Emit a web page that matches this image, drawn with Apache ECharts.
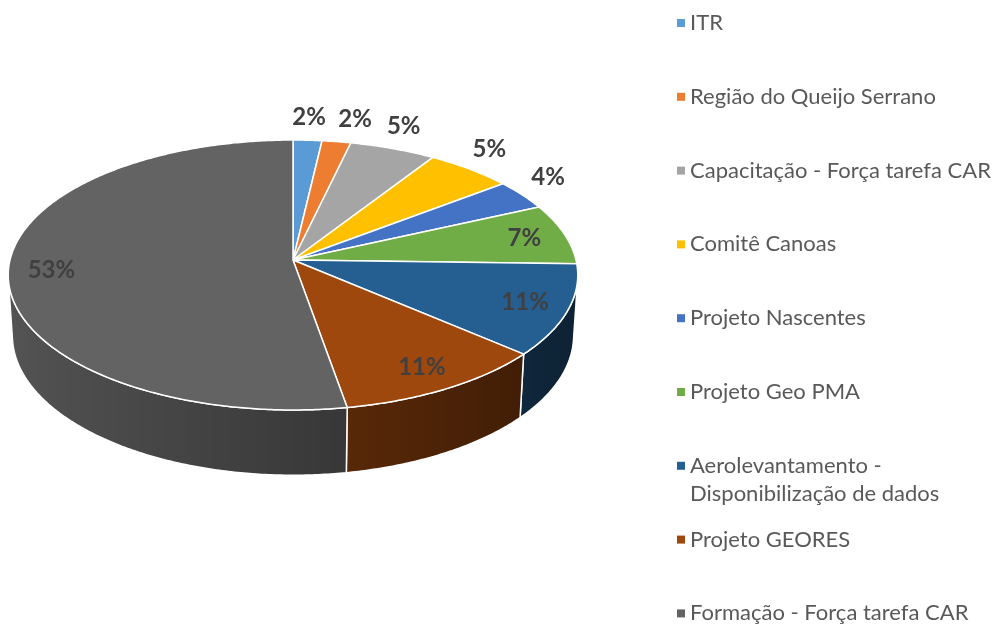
<!DOCTYPE html>
<html><head><meta charset="utf-8">
<script src="https://cdn.jsdelivr.net/npm/echarts@6/dist/echarts.min.js"></script>
<style>html,body{margin:0;padding:0;background:#fff}#c{width:995px;height:628px}</style>
</head><body><div id="c"></div>
<script>
// ---- data ----
const categories = ['ITR','Região do Queijo Serrano','Capacitação - Força tarefa CAR','Comitê Canoas','Projeto Nascentes','Projeto Geo PMA','Aerolevantamento - Disponibilização de dados','Projeto GEORES','Formação - Força tarefa CAR'];
const values = [1, 1, 3, 3, 2, 4, 6, 6, 29];
const colors = ['#5B9BD5','#ED7D31','#A5A5A5','#FFC000','#4472C4','#70AD47','#255E91','#9E480E','#636363'];

// ---- 3D pie projection (layout) ----
const CX = 293, CY = 260, K = 2247, DIST = 7.94, SINP = 0.471, COSP = 0.882, H = 0.245;
const LABEL_FONT = 24, LABEL_W = 36, LABEL_H = 26;
const total = values.reduce((a, b) => a + b, 0);
const cum = []; let acc = 0; values.forEach(v => { cum.push(acc); acc += v; });
const VIS0 = Math.acos(-1 / (DIST * COSP)), VIS1 = 2 * Math.PI - VIS0;

function proj(theta, r, y) {
  const X = r * Math.sin(theta), Z = -r * Math.cos(theta);
  const yc = Z * SINP - y * COSP;
  const depth = DIST - Z * COSP - y * SINP;
  return [CX + K * X / depth, CY + K * yc / depth];
}
function shade(hex, f) {
  const n = parseInt(hex.slice(1), 16);
  const r = Math.round(((n >> 16) & 255) * f), g = Math.round(((n >> 8) & 255) * f), b = Math.round((n & 255) * f);
  return 'rgb(' + r + ',' + g + ',' + b + ')';
}

// label anchor positions with simple overlap avoidance
const labelPos = values.map((v, i) => {
  const pct = v / total * 100;
  const mid = (cum[i] + v / 2) / total * 2 * Math.PI;
  if (pct < 6) { const p = proj(mid, 1.12, 0); p[1] -= 10; return { p, out: true }; }
  return { p: proj(mid, 0.85, 0), out: false };
});
for (let i = 1; i < labelPos.length; i++) {
  const a = labelPos[i - 1], b = labelPos[i];
  if (a.out && b.out && Math.abs(a.p[1] - b.p[1]) < LABEL_H && b.p[0] - a.p[0] < LABEL_W + 10) {
    b.p[0] = a.p[0] + LABEL_W + 10;
  }
}

function renderItem(params, api) {
  const i = params.dataIndex;
  const a0 = cum[i] / total * 2 * Math.PI, a1 = (cum[i] + values[i]) / total * 2 * Math.PI;
  const children = [];
  // wall
  const v0 = Math.max(a0, VIS0), v1 = Math.min(a1, VIS1);
  if (v1 > v0) {
    const m = Math.max(2, Math.ceil((v1 - v0) / 0.01));
    const up = [], dn = [], thetas = [];
    for (let j = 0; j <= m; j++) {
      const t = v0 + (v1 - v0) * j / m;
      thetas.push(t); up.push(proj(t, 1, 0)); dn.push(proj(t, 1, -H));
    }
    const pts = up.concat(dn.slice().reverse());
    const xs = pts.map(p => p[0]);
    const xmin = Math.min.apply(null, xs), xmax = Math.max.apply(null, xs);
    const stops = thetas.map((t, j) => ({
      offset: Math.min(1, Math.max(0, (up[j][0] - xmin) / (xmax - xmin || 1))),
      color: shade(colors[i], 0.6 - 0.25 * Math.sin(t))
    })).sort((a, b) => a.offset - b.offset);
    children.push({
      type: 'polygon', shape: { points: pts }, z2: 1,
      style: { fill: new echarts.graphic.LinearGradient(0, 0, 1, 0, stops), stroke: '#ffffff', lineWidth: 1.5 }
    });
  }
  // top face
  const top = [proj(0, 0, 0)];
  const n = Math.max(2, Math.ceil((a1 - a0) / 0.01));
  for (let j = 0; j <= n; j++) top.push(proj(a0 + (a1 - a0) * j / n, 1, 0));
  children.push({
    type: 'polygon', shape: { points: top }, z2: 2,
    style: { fill: colors[i], stroke: '#ffffff', lineWidth: 1.5, lineJoin: 'round' }
  });
  // label
  const pct = values[i] / total * 100;
  const p = labelPos[i].p;
  children.push({
    type: 'text', z2: 10,
    style: {
      text: Math.round(pct) + '%', x: p[0], y: p[1],
      align: 'center', verticalAlign: 'middle', textAlign: 'center', textVerticalAlign: 'middle',
      fontFamily: 'Lato', fontWeight: 'bold', fontSize: LABEL_FONT, fill: '#404040'
    }
  });
  return { type: 'group', children };
}

const legendStep = 73.8, legendFirst = 23, LH = 28;
const legends = categories.map((name, i) => {
  const twoLine = name.indexOf(' - Disponibiliza') > 0;
  const cy = legendFirst + i * legendStep;
  return {
    data: [name], orient: 'vertical', left: 677, top: twoLine ? cy - LH * 1.5 : cy - LH / 2,
    padding: 0, icon: 'rect', itemWidth: 8, itemHeight: 8, selectedMode: false,
    formatter: n => twoLine ? '\n' + n.replace(' - Disponibiliza', ' -\nDisponibiliza') : n,
    textStyle: { fontFamily: 'Lato', fontSize: 22, color: '#595959', lineHeight: LH }
  };
});

const chart = echarts.init(document.getElementById('c'), null, { renderer: 'canvas' });
chart.setOption({
  animation: false,
  backgroundColor: '#ffffff',
  legend: legends,
  series: [
    {
      type: 'custom', coordinateSystem: 'none', renderItem: renderItem, silent: true,
      data: values.map((v, i) => ({ name: categories[i], value: v }))
    },
    {
      type: 'pie', center: [-300, -300], radius: [0, 1], silent: true, label: { show: false },
      data: values.map((v, i) => ({ name: categories[i], value: v, itemStyle: { color: colors[i] } }))
    }
  ]
});
</script></body></html>
